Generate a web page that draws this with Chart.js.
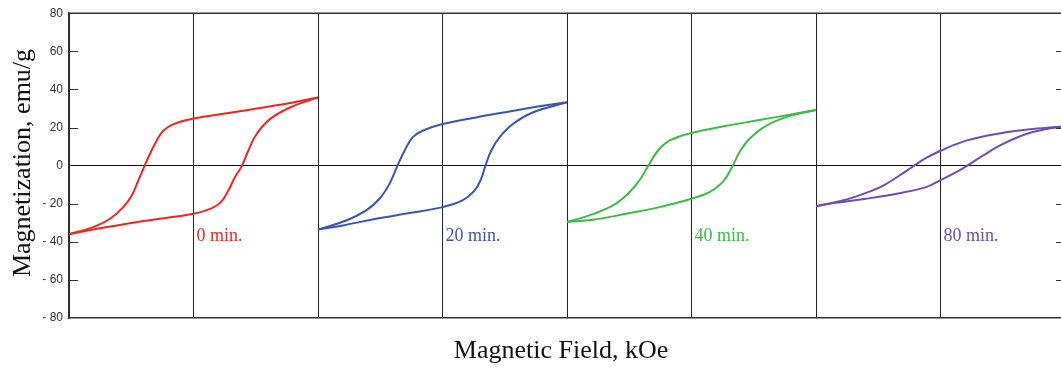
<!DOCTYPE html>
<html>
<head>
<meta charset="utf-8">
<script src="https://cdn.jsdelivr.net/npm/chart.js@4.4.1/dist/chart.umd.min.js"></script>
<style>
  html, body { margin: 0; padding: 0; background: #fff; overflow: hidden; }
  #wrap { width: 1066px; height: 367px; }
</style>
</head>
<body>
<div id="wrap"><canvas id="loops" width="1066" height="367"></canvas></div>
<script>
// anneal times and where each loop sits on the shared field axis
const times = ['0 min.', '20 min.', '40 min.', '80 min.'];
const centers = [0, 20, 40, 60];
const colors = ['#f02424', '#3a55ad', '#3dba48', '#6c4fae'];

// field (kOe) and magnetization (emu/g) per branch
// dec = sweep from +H to -H (upper branch), inc = sweep from -H to +H (lower branch)
const h0Dec = [-10, -8.05, -6.7, -5.64, -4.96, -4.43, -3.98, -3.5, -2.96, -2.43, -1.6, 0, 2.67, 5.34, 8.0, 10];
const m0Dec = [-36, -32.3, -27.9, -21.8, -15.7, -7.8, -0.9, 6.1, 13.1, 18.3, 21.8, 24.7, 27.5, 30.2, 33.1, 35.8];
const h0Inc = [-10, -8.05, -5.37, -2.69, 0, 1.4, 2.2, 2.8, 3.33, 3.87, 4.4, 5.07, 6.14, 7.75, 10];
const m0Inc = [-36, -33.6, -30.5, -27.9, -25.3, -22.6, -19.2, -13.1, -6.1, -0.4, 7.8, 16.6, 24.4, 30.5, 35.8];

const h1Dec = [-10, -7.74, -6.13, -5.06, -4.26, -3.64, -3.05, -2.4, -1.6, 0, 2.7, 5.38, 8.06, 10];
const m1Dec = [-33.6, -28.8, -23.5, -17.4, -9.6, -0.4, 7.8, 14.8, 18.3, 21.8, 25.3, 28.4, 31.4, 33.2];
const h1Inc = [-10, -8.0, -5.33, -2.65, 0, 1.6, 2.57, 3.1, 3.43, 3.91, 4.58, 5.65, 7.25, 10];
const m1Inc = [-33.6, -31.4, -27.9, -24.9, -21.8, -18.3, -13.1, -7, -0.4, 7.8, 14.8, 21.8, 27.9, 33.2];

const h2Dec = [-10, -8.2, -6.3, -5.1, -4.18, -3.5, -2.7, -1.77, 0, 2.8, 5.46, 8.1, 10];
const m2Dec = [-29.6, -26.1, -20.9, -14.8, -7.8, -0.4, 7.8, 13.1, 17.1, 20.9, 23.9, 27, 29.2];
const h2Inc = [-10, -7.9, -5.25, -2.57, 0, 1.45, 2.5, 3.25, 3.85, 4.65, 5.99, 7.9, 10];
const m2Inc = [-29.6, -28.4, -25.3, -21.8, -17.4, -13.9, -8.7, -0.9, 7, 14, 20.9, 26.1, 29.2];

const h3Dec = [-10, -7.85, -5.97, -4.6, -3.3, -2.2, -1.15, 0, 2.06, 4.74, 7.4, 10];
const m3Dec = [-21.3, -18.3, -14.3, -10.5, -5.2, -0.4, 4, 7.8, 13.1, 16.9, 19.2, 20.6];
const h3Inc = [-10, -8.6, -5.97, -3.3, -1.15, 0, 1.0, 2.06, 3.4, 4.74, 6.88, 8.5, 10];
const m3Inc = [-21.3, -19.7, -17.4, -14.5, -11.3, -7.6, -4.4, -0.4, 5.2, 10.5, 16.6, 19.2, 20.6];

const branches = [
    [h0Dec, m0Dec, 0], [h0Inc, m0Inc, 0],
    [h1Dec, m1Dec, 1], [h1Inc, m1Inc, 1],
    [h2Dec, m2Dec, 2], [h2Inc, m2Inc, 2],
    [h3Dec, m3Dec, 3], [h3Inc, m3Inc, 3]
];

// label anchor: just right of each loop's H = 0 line, below the loop
const labelM = -39.5;

const datasets = branches.map(([h, m, i]) => ({
    data: h.map((x, k) => ({ x: x + centers[i], y: m[k] })),
    borderColor: colors[i],
    borderWidth: 2,
    pointRadius: 0,
    showLine: true,
    fill: false,
    tension: 0.4
}));

const AXIS = '#333';

// frame, inward ticks, axis titles and loop labels
const decorations = {
    id: 'decorations',
    afterDraw(chart) {
        const { ctx, chartArea: a, scales: { x, y } } = chart;
        ctx.save();
        ctx.strokeStyle = AXIS;
        ctx.lineWidth = 1.5;
        ctx.beginPath();
        ctx.moveTo(a.left, a.top);
        ctx.lineTo(a.right, a.top);
        ctx.stroke();

        ctx.lineWidth = 1.2;
        y.ticks.forEach(t => {
            if (t.value === 0 || Math.abs(t.value) === 80) return;
            const py = Math.round(y.getPixelForValue(t.value)) + 0.5;
            ctx.beginPath();
            ctx.moveTo(a.left, py); ctx.lineTo(a.left + 9, py);
            ctx.moveTo(a.right, py); ctx.lineTo(a.right - 9, py);
            ctx.stroke();
        });

        ctx.font = '18px "Liberation Serif", "Times New Roman", serif';
        ctx.textAlign = 'left';
        ctx.textBaseline = 'alphabetic';
        times.forEach((txt, i) => {
            ctx.fillStyle = colors[i];
            ctx.fillText(txt, x.getPixelForValue(centers[i]) + 3, y.getPixelForValue(labelM));
        });

        ctx.fillStyle = '#111';
        ctx.font = '26px "Liberation Serif", "Times New Roman", serif';
        ctx.textAlign = 'center';
        ctx.fillText('Magnetic Field, kOe', 561, 358);

        ctx.translate(30, 163);
        ctx.rotate(-Math.PI / 2);
        ctx.fillText('Magnetization, emu/g', 0, 0);
        ctx.restore();
    }
};

new Chart(document.getElementById('loops'), {
    type: 'scatter',
    data: { datasets },
    options: {
        responsive: false,
        animation: false,
        layout: { padding: { top: 12, right: 1, left: 0, bottom: 0 } },
        plugins: { legend: { display: false }, tooltip: { enabled: false } },
        scales: {
            x: {
                type: 'linear',
                min: -10,
                max: 70,
                ticks: { display: false, stepSize: 10 },
                grid: { color: '#222', lineWidth: 1, drawTicks: false },
                border: { display: true, color: AXIS, width: 1.5 },
                afterFit(scale) { scale.height = 49; }
            },
            y: {
                min: -80,
                max: 80,
                ticks: {
                    stepSize: 20,
                    padding: 6,
                    color: '#333',
                    font: { family: '"Liberation Sans", Arial, sans-serif', size: 12 },
                    callback: v => v < 0 ? '- ' + Math.abs(v) : String(v)
                },
                grid: {
                    drawTicks: false,
                    lineWidth: 1,
                    color: c => c.tick && c.tick.value === 0 ? '#111' : 'rgba(0,0,0,0)'
                },
                border: { display: true, color: AXIS, width: 1.5 },
                afterFit(scale) { scale.width = 69; }
            }
        }
    },
    plugins: [decorations]
});
</script>
</body>
</html>
